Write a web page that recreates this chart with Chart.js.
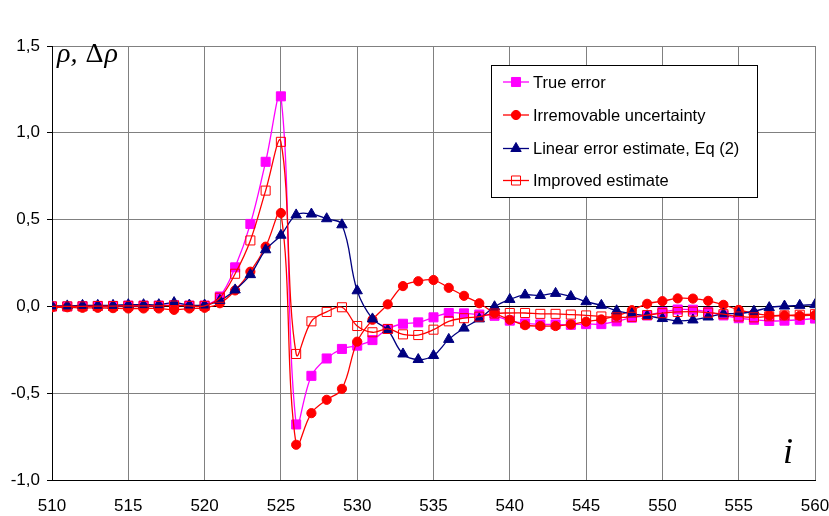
<!DOCTYPE html>
<html>
<head>
<meta charset="utf-8">
<title>Error estimates</title>
<script src="https://cdn.jsdelivr.net/npm/chart.js@4/dist/chart.umd.min.js"></script>
<style>
  html, body { margin: 0; padding: 0; background: #ffffff; }
  #wrap { width: 829px; height: 516px; }
</style>
</head>
<body>
<div id="wrap"><canvas id="chart" width="829" height="516"></canvas></div>
<script>
// Sample index i
const indices = [];
for (let i = 510; i <= 560; i++) indices.push(i);

// Series values, one per index 510..560
const trueError = [
  0.000, 0.000, 0.002, 0.003, 0.003, 0.005, 0.005, 0.005, 0.008, 0.005,
  0.005, 0.057, 0.225, 0.475, 0.833, 1.210, -0.680, -0.400, -0.300, -0.245,
  -0.226, -0.194, -0.130, -0.100, -0.092, -0.063, -0.038, -0.040, -0.047, -0.054,
  -0.082, -0.098, -0.104, -0.104, -0.106, -0.102, -0.102, -0.086, -0.065, -0.052,
  -0.032, -0.018, -0.019, -0.032, -0.052, -0.068, -0.077, -0.084, -0.082, -0.077,
  -0.070
];
const irremovable = [
  -0.005, -0.005, -0.008, -0.008, -0.010, -0.012, -0.012, -0.012, -0.020, -0.012,
  -0.008, 0.018, 0.092, 0.200, 0.344, 0.538, -0.797, -0.615, -0.538, -0.475,
  -0.203, -0.077, 0.012, 0.117, 0.145, 0.152, 0.107, 0.061, 0.018, -0.038,
  -0.077, -0.108, -0.113, -0.113, -0.104, -0.088, -0.075, -0.055, -0.022, 0.015,
  0.030, 0.046, 0.045, 0.032, 0.009, -0.020, -0.040, -0.052, -0.052, -0.054,
  -0.050
];
const linearEstimate = [
  0.003, 0.003, 0.006, 0.006, 0.006, 0.010, 0.010, 0.010, 0.022, 0.008,
  0.008, 0.035, 0.095, 0.183, 0.326, 0.410, 0.527, 0.532, 0.505, 0.470,
  0.090, -0.072, -0.136, -0.274, -0.306, -0.283, -0.190, -0.125, -0.072, -0.002,
  0.040, 0.066, 0.063, 0.075, 0.057, 0.027, 0.006, -0.025, -0.043, -0.054,
  -0.070, -0.083, -0.078, -0.061, -0.043, -0.041, -0.028, -0.007, 0.002, 0.006,
  0.010
];
const improvedEstimate = [
  0.000, 0.000, 0.000, 0.002, 0.002, 0.003, 0.003, 0.003, 0.005, 0.003,
  0.003, 0.050, 0.188, 0.380, 0.667, 0.948, -0.274, -0.086, -0.032, -0.005,
  -0.113, -0.149, -0.130, -0.161, -0.165, -0.134, -0.086, -0.068, -0.059, -0.041,
  -0.038, -0.038, -0.043, -0.043, -0.047, -0.052, -0.058, -0.063, -0.060, -0.050,
  -0.039, -0.032, -0.030, -0.036, -0.045, -0.058, -0.063, -0.057, -0.052, -0.048,
  -0.045
];

// Axis ticks
const xTicks = [510, 515, 520, 525, 530, 535, 540, 545, 550, 555, 560];
const yTicks = [-1.0, -0.5, 0.0, 0.5, 1.0, 1.5];

const seriesNames = [
  'True error',
  'Irremovable uncertainty',
  'Linear error estimate, Eq (2)',
  'Improved estimate'
];

const toPoints = vals => indices.map((x, k) => ({ x: x, y: vals[k] }));

const SANS = "'Liberation Sans', Arial, Helvetica, sans-serif";
const SERIF = "'Liberation Serif', 'Times New Roman', serif";

const datasets = [
  {
    label: seriesNames[0], data: toPoints(trueError),
    borderColor: '#FF00FF', backgroundColor: '#FF00FF',
    pointStyle: 'rect', pointRadius: 6.4, pointBorderWidth: 1,
    pointBorderColor: '#FF00FF', pointBackgroundColor: '#FF00FF', order: 4
  },
  {
    label: seriesNames[1], data: toPoints(irremovable),
    borderColor: '#FF0000', backgroundColor: '#FF0000',
    pointStyle: 'circle', pointRadius: 4.6, pointBorderWidth: 1,
    pointBorderColor: '#FF0000', pointBackgroundColor: '#FF0000', order: 3
  },
  {
    label: seriesNames[2], data: toPoints(linearEstimate),
    borderColor: '#000080', backgroundColor: '#000080',
    pointStyle: 'triangle', pointRadius: 6, pointBorderWidth: 1,
    pointBorderColor: '#000080', pointBackgroundColor: '#000080', order: 2
  },
  {
    label: seriesNames[3], data: toPoints(improvedEstimate),
    borderColor: '#FF0000', backgroundColor: 'rgba(0,0,0,0)',
    pointStyle: 'rect', pointRadius: 6.4, pointBorderWidth: 1,
    pointBorderColor: '#FF0000', pointBackgroundColor: 'rgba(0,0,0,0)', order: 1
  }
];
datasets.forEach(d => {
  d.borderWidth = 1.3;
  d.tension = 0.4;
  d.fill = false;
  d.pointHoverRadius = d.pointRadius;
});

// Legend box and axis symbols drawn inside the plot
const overlay = {
  id: 'overlay',
  afterDatasetsDraw(chart) {
    const ctx = chart.ctx;
    ctx.save();

    // Axis symbols: rho italic, Delta upright
    ctx.fillStyle = '#000';
    ctx.textBaseline = 'alphabetic';
    ctx.textAlign = 'left';
    let x = 57;
    const italic = "italic 28px " + SERIF;
    const upright = "28px " + SERIF;
    [['\u03C1, ', italic], ['\u0394', upright], ['\u03C1', italic]].forEach(([t, f]) => {
      ctx.font = f;
      ctx.fillText(t, x, 62);
      x += ctx.measureText(t).width + 1;
    });
    ctx.font = "italic 36px " + SERIF;
    ctx.fillText('i', 783, 463);

    // Legend
    const bx = 491, by = 65, bw = 266, bh = 132;
    ctx.fillStyle = '#fff';
    ctx.fillRect(bx, by, bw, bh);
    ctx.strokeStyle = '#000';
    ctx.lineWidth = 1;
    ctx.strokeRect(bx + 0.5, by + 0.5, bw, bh);

    const rows = [82, 115, 148.5, 180.5];
    datasets.forEach((d, k) => {
      const y = rows[k];
      ctx.strokeStyle = d.borderColor;
      ctx.lineWidth = 1.3;
      ctx.beginPath();
      ctx.moveTo(503, y);
      ctx.lineTo(529, y);
      ctx.stroke();
      ctx.fillStyle = d.pointBackgroundColor;
      ctx.strokeStyle = d.pointBorderColor;
      ctx.lineWidth = 1;
      Chart.helpers.drawPoint(ctx, {
        pointStyle: d.pointStyle, radius: d.pointRadius, rotation: 0, borderWidth: 1
      }, 516, y);
      ctx.fillStyle = '#000';
      ctx.font = "16.5px " + SANS;
      ctx.textBaseline = 'middle';
      ctx.textAlign = 'left';
      ctx.fillText(d.label, 533, y + 1);
    });
    ctx.restore();
  }
};

new Chart(document.getElementById('chart'), {
  type: 'line',
  data: { datasets: datasets },
  options: {
    responsive: false,
    animation: false,
    events: [],
    layout: { padding: { top: 46, right: 0, left: 0, bottom: 0 } },
    plugins: {
      legend: { display: false },
      tooltip: { enabled: false },
      title: { display: false }
    },
    scales: {
      x: {
        type: 'linear',
        min: xTicks[0],
        max: xTicks[xTicks.length - 1],
        afterBuildTicks: s => { s.ticks = xTicks.map(v => ({ value: v })); },
        afterFit: s => { s.height = 36; s.paddingRight = 14; },
        grid: { color: '#808080', lineWidth: 1, drawTicks: false },
        border: { color: '#000', width: 1 },
        ticks: {
          color: '#000', padding: 16, maxRotation: 0,
          font: { family: SANS, size: 17 },
          callback: v => String(v)
        }
      },
      y: {
        type: 'linear',
        min: yTicks[0],
        max: yTicks[yTicks.length - 1],
        afterBuildTicks: s => { s.ticks = yTicks.map(v => ({ value: v })); },
        afterFit: s => { s.width = 52; },
        grid: {
          color: c => (c.tick && Math.abs(c.tick.value) < 1e-9) ? '#000' : '#808080',
          lineWidth: 1, drawTicks: true, tickLength: 5, tickColor: '#000'
        },
        border: { color: '#000', width: 1 },
        ticks: {
          color: '#000', padding: 7,
          font: { family: SANS, size: 17 },
          callback: v => v.toFixed(1).replace('.', ',')
        }
      }
    }
  },
  plugins: [overlay]
});
</script>
</body>
</html>
